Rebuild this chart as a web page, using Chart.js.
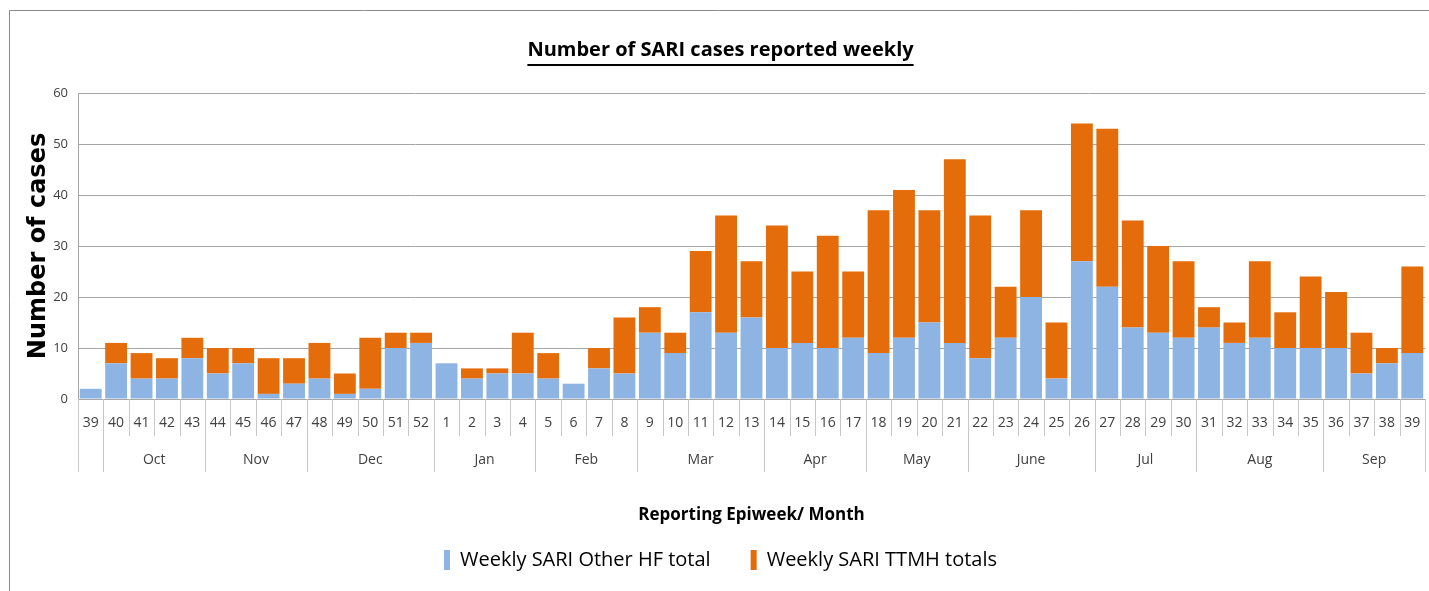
<!DOCTYPE html>
<html>
<head>
<meta charset="utf-8">
<script src="https://cdn.jsdelivr.net/npm/chart.js@4.4.1/dist/chart.umd.min.js"></script>
<style>
  html, body { margin: 0; padding: 0; background: #fff; }
  #wrap { width: 1429px; height: 591px; position: relative; }
</style>
</head>
<body>
<div id="wrap"><canvas id="sariChart"></canvas></div>
<script>
// Epiweeks shown on the axis
var semanas = ['39','40','41','42','43','44','45','46','47','48','49','50','51','52',
    '1','2','3','4','5','6','7','8','9','10','11','12','13','14','15','16','17',
    '18','19','20','21','22','23','24','25','26','27','28','29','30','31','32',
    '33','34','35','36','37','38','39'];

// Month row under the weeks (how many weeks each month covers)
var meses = ['', 'Oct', 'Nov', 'Dec', 'Jan', 'Feb', 'Mar', 'Apr', 'May', 'June', 'Jul', 'Aug', 'Sep'];
var semanasPorMes = [1, 4, 4, 5, 4, 4, 5, 4, 4, 5, 4, 5, 4];

// Weekly SARI Other HF total
var otrosHF = [2,7,4,4,8,5,7,1,3,4,1,2,10,11,
    7,4,5,5,4,3,6,5,13,9,17,13,16,10,11,10,12,
    9,12,15,11,8,12,20,4,27,22,14,13,12,14,11,
    12,10,10,10,5,7,9];

// Weekly SARI TTMH totals
var ttmh = [0,4,5,4,4,5,3,7,5,7,4,10,3,2,
    0,2,1,8,5,0,4,11,5,4,12,23,11,24,14,22,13,
    28,29,22,36,28,10,17,11,27,31,21,17,15,4,4,
    15,7,14,11,8,3,17];

var yTicks = [0, 10, 20, 30, 40, 50, 60];

var fuente = "'Open Sans', 'Noto Sans', sans-serif";
var grisTexto = '#404040';

// Frame, title underline, week/month dividers and month names
var decoraciones = {
    id: 'decoraciones',
    beforeDraw: function(chart) {
        var ctx = chart.ctx;
        ctx.save();
        ctx.fillStyle = '#ffffff';
        ctx.fillRect(0, 0, chart.width, chart.height);
        ctx.strokeStyle = '#8c8c8c';
        ctx.lineWidth = 1;
        ctx.beginPath();
        ctx.moveTo(9.5, chart.height);
        ctx.lineTo(9.5, 10.5);
        ctx.lineTo(chart.width, 10.5);
        ctx.stroke();
        ctx.restore();
    },
    afterDraw: function(chart) {
        var ctx = chart.ctx;
        var x = chart.scales.x;
        var area = chart.chartArea;
        var paso = x.getPixelForValue(1) - x.getPixelForValue(0);

        ctx.save();
        // week and month dividers
        ctx.strokeStyle = '#c8c8c8';
        ctx.lineWidth = 1;
        var limites = {};
        var acumulado = 0;
        limites[0] = true;
        for (var m = 0; m < semanasPorMes.length; m++) {
            acumulado += semanasPorMes[m];
            limites[acumulado] = true;
        }
        for (var i = 0; i <= semanas.length; i++) {
            var px = Math.round(x.getPixelForValue(i) - paso / 2) + 0.5;
            var largo = limites[i] ? 73 : 37;
            ctx.beginPath();
            ctx.moveTo(px, area.bottom);
            ctx.lineTo(px, area.bottom + largo);
            ctx.stroke();
        }

        // month names
        ctx.fillStyle = grisTexto;
        ctx.font = '14px ' + fuente;
        ctx.textAlign = 'center';
        ctx.textBaseline = 'middle';
        var inicio = 0;
        for (var k = 0; k < meses.length; k++) {
            var fin = inicio + semanasPorMes[k] - 1;
            var centro = (x.getPixelForValue(inicio) + x.getPixelForValue(fin)) / 2;
            ctx.fillText(meses[k], centro, area.bottom + 61);
            inicio = fin + 1;
        }

        // underline the title
        var t = chart.titleBlock;
        if (t && t.options.display) {
            ctx.font = 'bold 20px ' + fuente;
            var ancho = ctx.measureText(t.options.text).width;
            var cx = (t.left + t.right) / 2;
            var ty = t.top + t.options.padding.top + 12 + 14;
            ctx.fillStyle = '#000';
            ctx.fillRect(cx - ancho / 2, ty, ancho, 2);
        }
        ctx.restore();
    }
};

var ctx = document.getElementById('sariChart').getContext('2d');
var sariChart = new Chart(ctx, {
    type: 'bar',
    data: {
        labels: semanas,
        datasets: [{
            label: 'Weekly SARI Other HF total',
            data: otrosHF,
            backgroundColor: '#8db4e2',
            borderWidth: 0,
            barPercentage: 0.86,
            categoryPercentage: 1
        }, {
            label: 'Weekly SARI TTMH totals',
            data: ttmh,
            backgroundColor: '#e46c0a',
            borderWidth: 0,
            barPercentage: 0.86,
            categoryPercentage: 1
        }]
    },
    options: {
        responsive: true,
        maintainAspectRatio: false,
        animation: false,
        layout: {
            padding: { left: 16, right: 4, top: 0, bottom: 11 }
        },
        plugins: {
            title: {
                display: true,
                text: 'Number of SARI cases reported weekly',
                color: '#000',
                font: { family: fuente, size: 20, weight: 'bold' },
                padding: { top: 38, bottom: 31 }
            },
            legend: {
                position: 'bottom',
                labels: {
                    color: '#000',
                    font: { family: fuente, size: 20 },
                    boxWidth: 6,
                    boxHeight: 20,
                    padding: 40
                }
            },
            tooltip: { enabled: false }
        },
        scales: {
            x: {
                stacked: true,
                grid: {
                    display: true,
                    drawOnChartArea: false,
                    drawTicks: true,
                    tickLength: 13,
                    tickColor: 'rgba(0,0,0,0)'
                },
                border: { display: true, color: '#a6a6a6' },
                ticks: {
                    color: grisTexto,
                    font: { family: fuente, size: 14 },
                    padding: 3,
                    maxRotation: 0,
                    autoSkip: false
                },
                title: {
                    display: true,
                    text: 'Reporting Epiweek/ Month',
                    color: '#000',
                    font: { family: fuente, size: 17, weight: 'bold' },
                    padding: { top: 0, bottom: -15 }
                },
                afterFit: function(scale) { scale.height = 111; }
            },
            y: {
                stacked: true,
                min: 0,
                max: 60,
                afterBuildTicks: function(scale) {
                    scale.ticks = yTicks.map(function(v) { return { value: v }; });
                },
                grid: { color: '#a6a6a6', drawTicks: false },
                border: { display: true, color: '#a6a6a6' },
                ticks: {
                    color: grisTexto,
                    font: { family: fuente, size: 13 },
                    padding: 10
                },
                title: {
                    display: true,
                    text: 'Number of cases',
                    color: '#000',
                    font: { family: "'DejaVu Sans', Verdana, sans-serif", size: 24, weight: 'bold' },
                    padding: { top: 8, bottom: 0 }
                },
                afterFit: function(scale) { scale.width = 62; }
            }
        }
    },
    plugins: [decoraciones]
});
</script>
</body>
</html>
